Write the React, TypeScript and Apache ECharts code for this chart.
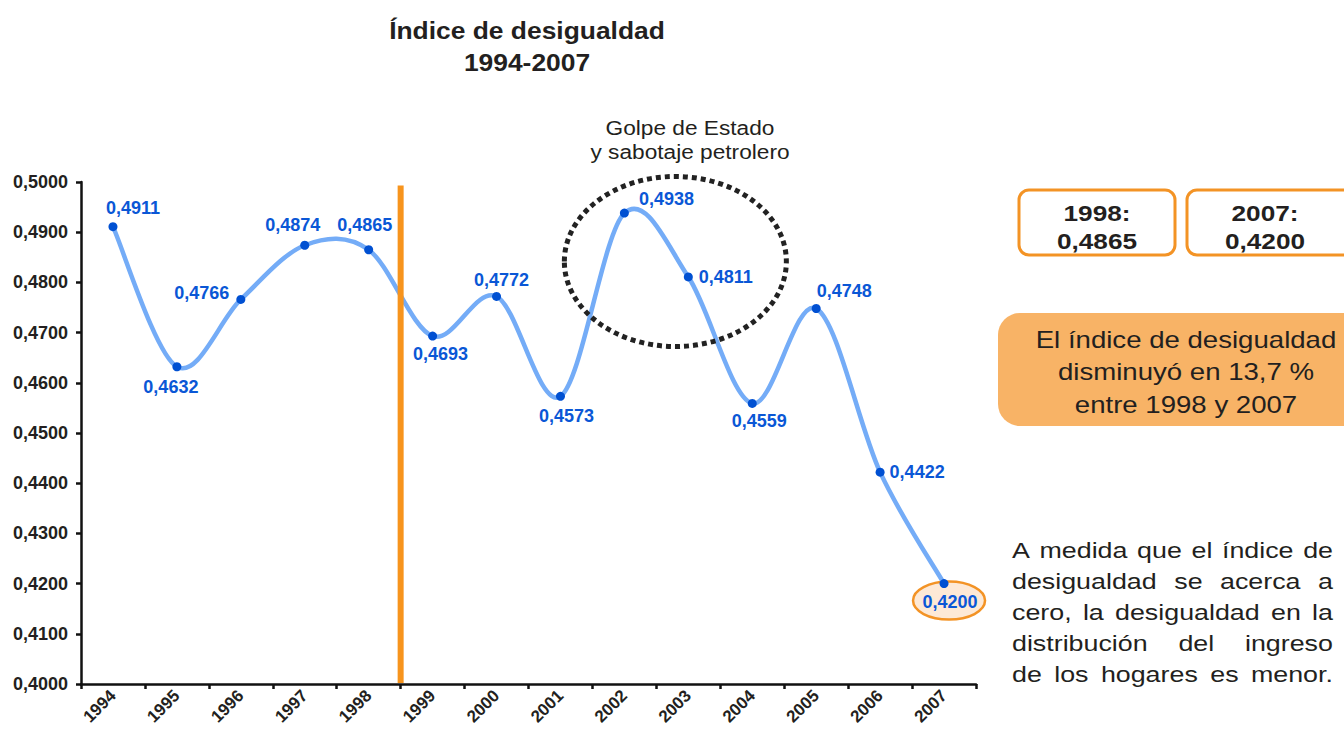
import React, { useEffect, useRef } from "react";
import * as echarts from "echarts";

const years = ["1994", "1995", "1996", "1997", "1998", "1999", "2000", "2001", "2002", "2003", "2004", "2005", "2006", "2007"];
const giniValues = [0.4911, 0.4632, 0.4766, 0.4874, 0.4865, 0.4693, 0.4772, 0.4573, 0.4938, 0.4811, 0.4559, 0.4748, 0.4422, 0.42];
const yMin = 0.4;
const yMax = 0.5;
const yStep = 0.01;

const titleLines = ["Índice de desigualdad", "1994-2007"];
const noteLines = ["Golpe de Estado", "y sabotaje petrolero"];
const box1998 = ["1998:", "0,4865"];
const box2007 = ["2007:", "0,4200"];
const summaryLines = ["El índice de desigualdad", "disminuyó en 13,7 %", "entre 1998 y 2007"];
const paragraphLines = [
  "A medida que el índice de",
  "desigualdad se acerca a",
  "cero, la desigualdad en la",
  "distribución del ingreso",
  "de los hogares es menor.",
];

const FONT = '"Liberation Sans", Arial, Helvetica, sans-serif';
const DARK = "#231f20";
const ORANGE = "#f39325";
const CURVE = "#74acf7";

const fmt = (v: number) => v.toFixed(4).replace(".", ",");

// label layout per point (position + offset)
const labelLayout: [string, number[]][] = [
  ["top", [20, 0]],
  ["bottom", [-6, 2]],
  ["left", [-2, -6]],
  ["top", [-12, -2]],
  ["top", [-4, -6]],
  ["bottom", [8, -1]],
  ["top", [5, 2]],
  ["bottom", [6, 1]],
  ["right", [5, -14]],
  ["right", [1, 0]],
  ["bottom", [7, -1]],
  ["top", [28, 1]],
  ["right", [0, 0]],
  ["bottom", [6, 0]],
];

export default function App() {
  const ref = useRef<HTMLDivElement>(null);

  useEffect(() => {
    document.body.style.margin = "0";
    const chart = echarts.init(ref.current!, null, { renderer: "svg" });
    const n = giniValues.length;

    const data = giniValues.map((v, i) => ({
      value: v,
      label: {
        position: labelLayout[i][0],
        offset: labelLayout[i][1],
      },
    }));

    chart.setOption({
      animation: false,
      backgroundColor: "#ffffff",
      grid: { left: 81, right: 368, top: 182, bottom: 45, containLabel: false },
      xAxis: {
        type: "category",
        data: years,
        boundaryGap: true,
        axisLine: { show: true, lineStyle: { color: "#111", width: 2.5 } },
        axisTick: { show: true, length: 5, lineStyle: { color: "#111", width: 2.5 } },
        axisLabel: {
          rotate: 45,
          margin: 9,
          color: DARK,
          fontFamily: FONT,
          fontWeight: "bold",
          fontSize: 17,
        },
        splitLine: { show: false },
      },
      yAxis: {
        type: "value",
        min: yMin,
        max: yMax,
        interval: yStep,
        axisLine: { show: true, lineStyle: { color: "#111", width: 2.5 } },
        axisTick: { show: true, length: 5, lineStyle: { color: "#111", width: 2.5 } },
        axisLabel: {
          margin: 13,
          color: DARK,
          fontFamily: FONT,
          fontWeight: "bold",
          fontSize: 18,
          formatter: (v: number) => fmt(v),
        },
        splitLine: { show: false },
      },
      series: [
        {
          // smooth Catmull-Rom curve through the data points
          type: "custom",
          z: 3,
          data: giniValues.map((v, i) => [i, v]),
          encode: { x: 0, y: 1 },
          renderItem: (params: any, api: any) => {
            const i = params.dataIndex;
            if (i >= n - 1) return null;
            const c = (k: number) => Math.max(0, Math.min(n - 1, k));
            const P = (k: number) => api.coord([c(k), giniValues[c(k)]]);
            const p0 = P(i - 1);
            const p1 = P(i);
            const p2 = P(i + 1);
            const p3 = P(i + 2);
            return {
              type: "bezierCurve",
              shape: {
                x1: p1[0],
                y1: p1[1],
                x2: p2[0],
                y2: p2[1],
                cpx1: p1[0] + (p2[0] - p0[0]) / 6,
                cpy1: p1[1] + (p2[1] - p0[1]) / 6,
                cpx2: p2[0] - (p3[0] - p1[0]) / 6,
                cpy2: p2[1] - (p3[1] - p1[1]) / 6,
              },
              style: { stroke: CURVE, lineWidth: 4.5, fill: "none", lineCap: "round" },
            };
          },
        },
        {
          type: "line",
          data,
          symbol: "circle",
          symbolSize: 9,
          z: 5,
          itemStyle: { color: "#0050d2" },
          lineStyle: { width: 0, opacity: 0 },
          label: {
            show: true,
            color: "#0a57d6",
            fontFamily: FONT,
            fontWeight: "bold",
            fontSize: 18,
            formatter: (p: any) => fmt(p.value),
          },
        },
      ],
    });

    // annotations positioned from the chart's own scales
    const px = (i: number, v: number) => chart.convertToPixel({ xAxisIndex: 0, yAxisIndex: 0 }, [i, v]) as number[];
    const p4 = px(4, yMax);
    const p5 = px(5, yMin);
    const lineX = (p4[0] + p5[0]) / 2;
    const lineTop = px(4, 0.4993)[1];
    const p2007 = px(13, giniValues[13]);
    const p2002 = px(8, giniValues[8]);
    const p2003 = px(9, giniValues[9]);

    const canvas = document.createElement("canvas");
    const ctx = canvas.getContext("2d")!;
    const paraFont = 22;
    const paraScale = 1.22;
    ctx.font = `${paraFont}px ${FONT}`;
    const paraLeft = 1012;
    const paraRight = 1333;
    const paraWidth = paraRight - paraLeft;
    const paraElems: any[] = [];
    paragraphLines.forEach((line, li) => {
      const words = line.split(" ");
      const widths = words.map((w) => ctx.measureText(w).width * paraScale);
      const total = widths.reduce((a, b) => a + b, 0);
      const gap = words.length > 1 ? (paraWidth - total) / (words.length - 1) : 0;
      let x = paraLeft;
      words.forEach((w, wi) => {
        paraElems.push({
          type: "text",
          x,
          y: 550 + li * 31.2,
          scaleX: paraScale,
          style: {
            text: w,
            fill: DARK,
            font: `${paraFont}px ${FONT}`,
            textAlign: "left",
            textVerticalAlign: "middle",
          },
        });
        x += widths[wi] + gap;
      });
    });

    const centered = (text: string, x: number, y: number, size: number, bold: boolean, sx: number) => ({
      type: "text",
      x,
      y,
      scaleX: sx,
      style: {
        text,
        fill: DARK,
        font: `${bold ? "bold " : ""}${size}px ${FONT}`,
        textAlign: "center",
        textVerticalAlign: "middle",
      },
      z: 50,
    });

    chart.setOption({
      graphic: [
        // title
        centered(titleLines[0], 527, 30, 24, true, 1.1),
        centered(titleLines[1], 527, 62, 24, true, 1.1),
        // coup note
        centered(noteLines[0], 690, 128, 21, false, 1.08),
        centered(noteLines[1], 690, 152, 21, false, 1.08),
        // dotted ellipse around 2002-2003
        {
          type: "ellipse",
          shape: { cx: (p2002[0] + p2003[0]) / 2 + 19, cy: 261.5, rx: 111, ry: 85 },
          style: { fill: "none", stroke: "#222", lineWidth: 5, lineDash: [5, 4] },
          z: 100,
        },
        // vertical orange line (boundary 1998 | 1999)
        {
          type: "line",
          shape: { x1: lineX, y1: lineTop, x2: lineX, y2: p5[1] - 1 },
          style: { stroke: "#f7941d", lineWidth: 6 },
          z: 100,
        },
        // peach ellipse around 2007 label
        {
          type: "ellipse",
          shape: { cx: p2007[0] + 5, cy: p2007[1] + 17, rx: 36, ry: 19 },
          style: { fill: "#fde9d6", stroke: ORANGE, lineWidth: 2.5 },
          z: 1,
        },
        // boxes
        {
          type: "rect",
          shape: { x: 1019, y: 190, width: 156, height: 65, r: 10 },
          style: { fill: "#fff", stroke: ORANGE, lineWidth: 3 },
          z: 40,
        },
        centered(box1998[0], 1097, 213, 22, true, 1.19),
        centered(box1998[1], 1097, 241, 22, true, 1.19),
        {
          type: "rect",
          shape: { x: 1187, y: 190, width: 170, height: 65, r: 10 },
          style: { fill: "#fff", stroke: ORANGE, lineWidth: 3 },
          z: 40,
        },
        centered(box2007[0], 1265, 213, 22, true, 1.19),
        centered(box2007[1], 1265, 241, 22, true, 1.19),
        {
          type: "rect",
          shape: { x: 998, y: 313, width: 380, height: 113, r: [22, 0, 0, 22] },
          style: { fill: "#f8b366" },
          z: 40,
        },
        centered(summaryLines[0], 1186, 340, 23, false, 1.2),
        centered(summaryLines[1], 1186, 372, 23, false, 1.2),
        centered(summaryLines[2], 1186, 405, 23, false, 1.2),
        ...paraElems,
      ],
    });

    return () => chart.dispose();
  }, []);

  return <div ref={ref} style={{ width: 1344, height: 729 }} />;
}
